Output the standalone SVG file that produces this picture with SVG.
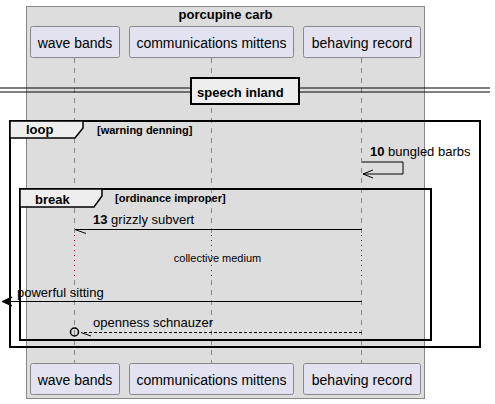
<svg xmlns="http://www.w3.org/2000/svg" width="495" height="404" viewBox="0 0 495 404">
<defs>
<style>
text{font-family:"Liberation Sans",Arial,sans-serif;fill:#000}
.part rect{fill:#E2E2F0;stroke:#888;stroke-width:1}
.part text{font-size:14px;text-anchor:middle}
.life{stroke:#888;stroke-width:1;stroke-dasharray:5,5;fill:none}
.delay{stroke:#A80036;stroke-width:1;stroke-dasharray:1,4;fill:none}
.frame{fill:none;stroke:#000;stroke-width:2}
.tab{fill:#EEEEEE;stroke:#000;stroke-width:1.5}
.msg{stroke:#000;stroke-width:1;fill:none}
.lbl{font-size:13px}
.b13{font-size:13px;font-weight:bold}
.b11{font-size:11px;font-weight:bold}
</style>
</defs>
<rect width="495" height="404" fill="#FFFFFF"/>
<g id="box-porcupine-carb">
<rect x="26.5" y="6.5" width="398" height="392" fill="#DDDDDD" stroke="#888" stroke-width="1"/>
<text x="225.5" y="19" class="b13" text-anchor="middle">porcupine carb</text>
</g>
<g id="lifelines">
<line class="life" x1="74.5" y1="58" x2="74.5" y2="233"/>
<line class="life" x1="211.5" y1="58" x2="211.5" y2="233"/>
<line class="life" x1="361.5" y1="58" x2="361.5" y2="233"/>
<line class="delay" x1="74.5" y1="235" x2="74.5" y2="278"/>
<line class="delay" x1="211.5" y1="235" x2="211.5" y2="278"/>
<line class="delay" x1="361.5" y1="235" x2="361.5" y2="278"/>
<line class="life" x1="74.5" y1="280" x2="74.5" y2="363"/>
<line class="life" x1="211.5" y1="280" x2="211.5" y2="363"/>
<line class="life" x1="361.5" y1="280" x2="361.5" y2="363"/>
</g>
<g id="wave-bands-top" class="part"><rect x="30.5" y="26.5" width="89" height="31" rx="2"/><text x="75" y="48">wave bands</text></g>
<g id="communications-mittens-top" class="part"><rect x="129.5" y="26.5" width="164" height="31" rx="2"/><text x="211.5" y="48">communications mittens</text></g>
<g id="behaving-record-top" class="part"><rect x="303.5" y="26.5" width="117" height="31" rx="2"/><text x="362" y="48">behaving record</text></g>
<g id="divider-speech-inland">
<line x1="0" y1="88" x2="490" y2="88" stroke="#000" stroke-width="1"/>
<line x1="0" y1="92" x2="490" y2="92" stroke="#000" stroke-width="1"/>
<rect x="191" y="78" width="108" height="26" fill="#EEEEEE" stroke="#000" stroke-width="2"/>
<text x="197" y="97" class="b13">speech inland</text>
</g>
<g id="loop-warning-denning">
<rect class="frame" x="10" y="121" width="470" height="226"/>
<path class="tab" d="M10,121 H83 V128 L75,138 H10 Z"/>
<text x="26" y="134" class="b13">loop</text>
<text x="97" y="134" class="b11">[warning denning]</text>
</g>
<g id="break-ordinance-improper">
<rect class="frame" x="20" y="189" width="411" height="151"/>
<path class="tab" d="M20,189 H102 V196 L94,207 H20 Z"/>
<text x="35" y="204" class="b13">break</text>
<text x="115" y="202" class="b11">[ordinance improper]</text>
</g>
<g id="connectors">
<g id="msg-10">
<path class="msg" d="M362,162 H403 V174 H363"/>
<path class="msg" d="M373,170 L363,174 L373,178"/>
<text x="370" y="156" class="lbl"><tspan font-weight="bold">10</tspan> bungled barbs</text>
</g>
<g id="msg-13">
<line class="msg" x1="362" y1="229.5" x2="75" y2="229.5"/>
<line class="msg" x1="75" y1="229.5" x2="86" y2="233.5"/>
<text x="93" y="224" class="lbl"><tspan font-weight="bold">13</tspan> grizzly subvert</text>
</g>
<text x="217.5" y="262" font-size="11" text-anchor="middle">collective medium</text>
<g id="msg-powerful">
<line class="msg" x1="362" y1="301.5" x2="3" y2="301.5"/>
<path d="M2,301.5 L12,297 L8,301.5 L12,306 Z" fill="#000" stroke="#000" stroke-width="1"/>
<text x="17" y="297" class="lbl">powerful sitting</text>
</g>
<g id="msg-openness">
<line class="msg" x1="362" y1="332.5" x2="83" y2="332.5" stroke-dasharray="3,2"/>
<circle cx="74.5" cy="332" r="4" fill="none" stroke="#000" stroke-width="1.5"/>
<line class="msg" x1="81" y1="332.5" x2="91" y2="336"/>
<text x="93" y="327" class="lbl">openness schnauzer</text>
</g>
</g>
<g id="wave-bands-bottom" class="part"><rect x="30.5" y="363.5" width="89" height="31" rx="2"/><text x="75" y="385">wave bands</text></g>
<g id="communications-mittens-bottom" class="part"><rect x="129.5" y="363.5" width="164" height="31" rx="2"/><text x="211.5" y="385">communications mittens</text></g>
<g id="behaving-record-bottom" class="part"><rect x="303.5" y="363.5" width="117" height="31" rx="2"/><text x="362" y="385">behaving record</text></g>
</svg>
